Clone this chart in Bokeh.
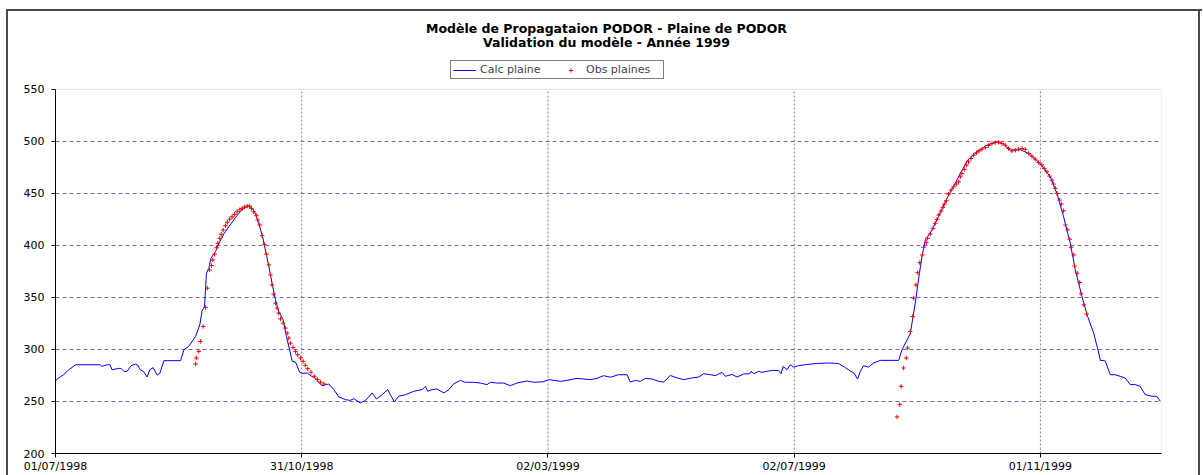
import pandas as pd
from bokeh.plotting import figure
from bokeh.models import (Range1d, FixedTicker, DatetimeTickFormatter, Label,
                          Legend, LegendItem, ColumnDataSource, BoxAnnotation)
from bokeh.embed import file_html
from bokeh.resources import INLINE

# ---------------- data ----------------
start_date = "1998-07-01"
end_offset = 548  # days shown on the x axis

title_line1 = "Modèle de Propagataion PODOR - Plaine de PODOR"
title_line2 = "Validation du modèle - Année 1999"

tick_labels = ["01/07/1998", "31/10/1998", "02/03/1999", "02/07/1999", "01/11/1999"]
y_ticks = [200, 250, 300, 350, 400, 450, 500, 550]

# "Calc plaine" : days since 01/07/1998, level
calc_day = [0, 1.6, 4, 6.6, 10, 22, 23, 25.6, 27, 28, 31.4, 32.5, 34, 35.5, 37.5, 39.6,
            40.7, 42, 43.7, 45.4, 46.7, 48.4, 50.4, 51.7, 53.7, 62, 63.6, 66, 69.4, 71.5,
            72.7, 73.8, 74.8, 76, 77, 79.3, 81, 83.4, 85.9, 88.3, 90.8, 93.3, 95.8, 97.4,
            99, 100.7, 102.4, 104, 105.7, 107.3, 109, 110.6, 112.8, 114.4, 116, 117.3,
            118.9, 121, 122.2, 124.7, 127, 128.8, 131, 132, 135.4, 137.9, 140.4, 143.7,
            146, 147.8, 151, 153.6, 156.9, 159, 161.8, 164.6, 165.9, 167.9, 170, 173.4,
            177.5, 181.7, 183.3, 184.4, 186.6, 189, 192.4, 194.9, 197.3, 200.6, 203,
            207.2, 210.5, 213.8, 215.5, 218.8, 222, 225.4, 228.6, 233.6, 236.9, 241.8,
            244.4, 246.9, 250.2, 253.5, 258.4, 261.7, 265, 268.3, 271.6, 274.9, 279,
            283.2, 284.8, 287.3, 289.8, 292.3, 295.6, 298.9, 301.4, 304.6, 308, 311.3,
            315.4, 318.7, 321.2, 324.5, 327, 330.2, 331.9, 335.2, 337.7, 341, 344, 344.6,
            346, 348.4, 350, 352.5, 355.8, 358.3, 359.5, 360.5, 362.5, 364, 365.7, 368.2,
            372, 377, 383, 388, 391, 394, 395.5, 397.4, 398.8, 400.4, 402.9, 405.4, 408.7,
            417.8, 419.4, 423.5, 426, 427.7, 429.3, 431, 434.3, 437.6, 441.7, 445.8,
            448.3, 451.9, 456.6, 461.5, 466.5, 469.8, 473.1, 478, 482.2, 487.9, 492.9,
            496.2, 499.5, 502.8, 505.3, 508.6, 511.4, 514.4, 516.5, 517.7, 520.1, 522.6,
            525, 527.6, 530, 532.5, 535, 537.4, 539.9, 543.2, 545.7, 547.4]
calc_val = [270, 272.6, 275.7, 280.5, 285.3, 285.3, 283.7, 285.3, 285.3, 280.5, 281.8, 281.8,
            278.6, 279, 284.4, 286, 285, 280.5, 278.6, 273.5, 280.5, 282.5, 275.4, 277,
            289.2, 289.2, 299.7, 302.9, 312.5, 323.7, 338, 340, 373.3, 378, 387.6, 394,
            402, 411, 418, 424.4, 430.8, 435.6, 437.8, 435.6, 430.8, 421, 410, 395.6,
            379.6, 363.7, 347.7, 336.5, 328.5, 312.5, 299.7, 288.5, 288, 278, 277, 277.4,
            274, 272.6, 267, 265.2, 266.8, 261.4, 254.3, 251.8, 251, 252.7, 248.6, 251,
            258.2, 252.4, 256.5, 261.4, 256.5, 249.6, 255, 256.5, 259.8, 261.4, 264.5,
            259.8, 261.4, 262, 258.2, 261.4, 267, 270.3, 268.4, 268.4, 267.7, 266.2, 268.4,
            267.7, 267.7, 265.2, 267.7, 269.7, 268.4, 269, 271, 270.3, 269.3, 270.3, 272.2,
            271.6, 271, 272.2, 274.8, 273.3, 275.7, 275.7, 268.7, 270.3, 269.3, 272.2,
            271.6, 269.3, 268.7, 275, 272.6, 271, 272.6, 273.5, 276.7, 275.7, 274.8, 278,
            274.2, 276, 273.5, 276.4, 276.7, 279, 276.7, 279, 278, 279, 279.9, 279.6,
            276.7, 283.7, 280.5, 285.3, 283, 284.4, 285.5, 286.5, 287, 286.5, 283, 279,
            277.6, 271.6, 279, 284.4, 283, 287, 289.5, 289.5, 299.7, 315, 344.5, 368.5,
            389.2, 405.2, 414.8, 428.2, 445.2, 459.6, 469.1, 481.9, 489.9, 496.3, 499.5,
            497.3, 491.5, 492, 488.3, 478.7, 465.9, 450, 427.5, 402, 376.4, 350.8, 331.7,
            315.7, 299.7, 289.5, 289, 275.7, 275.7, 274.1, 272.6, 266.2, 266.2, 264.5,
            256.6, 255, 255, 250.2]

# "Obs plaines" : days since 01/07/1998, level
obs_day = [69.4, 69.8, 71, 71.8, 73.2, 74.3, 75.2, 76.3, 77.3, 77.9, 78.8, 79.8, 80.4, 81.4,
           82.1, 83.1, 84.2, 85.1, 86.3, 87.5, 88.7, 90, 91.3, 92.5, 93.6, 95, 96.1, 97.1,
           98.2, 99.6, 100.2, 101.2, 102.4, 103.5, 104.5, 105.7, 106.5, 107.3, 108.1, 109,
           109.8, 110.6, 111.5, 112.8, 113.9, 114.8, 115.6, 116.4, 117.7, 118.9, 120,
           121.4, 122.7, 123.8, 125, 126.6, 128.2, 129.8, 131.3, 133,
           417, 418.3, 419, 420.2, 421.5, 422.2, 423.5, 424.7, 425.2, 426.3, 427.2, 428.2,
           429.5, 430.1, 431.5, 432.1, 433.4, 434.8, 435.9, 436.8, 437.6, 438.8, 439.7,
           440.4, 441.4, 442.5, 443.7, 445, 446.3, 447.5, 448.3, 449.1, 450.3, 451.3,
           452.4, 453.6, 454.9, 456.3, 457.6, 459.1, 460.7, 462.3, 464, 465.6, 467.3,
           468.9, 470.6, 472.2, 473.9, 475.6, 477.2, 478.9, 480.5, 482.2, 483.8, 485.4,
           487.1, 488.7, 489.9, 491.2, 492.5, 493.7, 494.5, 495.4, 496.2, 497.5, 498.4,
           499.5, 500.4, 501.5, 502.5, 503.2, 504.5, 504.9, 506.2, 507.5, 508.2, 509.5,
           510.9]
obs_val = [286, 291.8, 298.1, 307.7, 322.1, 340.3, 358.9, 376.4, 380.6, 386, 391.5, 397.8,
           402, 406.8, 410.6, 414.8, 418.9, 422.2, 425.3, 427.5, 429.8, 432.3, 434.2, 435.6,
           436.8, 437.8, 437.8, 435.6, 432.3, 428.5, 424.4, 419.6, 409.4, 401, 391.5,
           381.2, 371.6, 362, 353.1, 344.5, 339.7, 334.9, 329.4, 325.3, 320.5, 315.7,
           310.9, 306.1, 301.9, 298.1, 294.9, 291.8, 288.5, 284.7, 281.5, 278, 274.2, 271,
           268.4, 266.8,
           235.2, 247, 264.5, 282.2, 291.8, 301.4, 317.3, 331.7, 349.3, 362, 373.8, 383.4,
           390.8, 398.2, 402.6, 406.8, 410.9, 416.4, 421.2, 425, 429.2, 433, 436.5, 439.7,
           442.9, 449.3, 453.1, 456.3, 458.9, 461.1, 465.9, 469.1, 473, 477.1, 480.3,
           483.5, 486.7, 488.9, 490.8, 492.5, 494.1, 496, 497.9, 498.8, 499.2, 497.9,
           496.3, 493.1, 490.8, 491.5, 492.5, 493.1, 492.2, 488.3, 485.7, 482.9, 479.7,
           477.4, 473.9, 470.7, 466.6, 462.7, 458.9, 454.8, 450, 443.5, 439.7, 433.3,
           419.6, 414.8, 405.9, 398.2, 390.8, 380.3, 373.3, 364.3, 353.4, 342.9, 334.2]

# ---------------- build ----------------
t0 = pd.Timestamp(start_date)
t1 = t0 + pd.Timedelta(days=end_offset)
calc_src = ColumnDataSource(dict(x=t0 + pd.to_timedelta(calc_day, unit="D"), y=calc_val))
obs_src = ColumnDataSource(dict(x=t0 + pd.to_timedelta(obs_day, unit="D"), y=obs_val))
tick_dates = pd.to_datetime(tick_labels, format="%d/%m/%Y")
tick_ms = [d.value / 1e6 for d in tick_dates]
t0_ms, t1_ms = t0.value / 1e6, t1.value / 1e6

FONT = "DejaVu Sans"
Y_MIN, Y_MAX = y_ticks[0], y_ticks[-1]
# the frame reaches to the top of the page so that the titles and legend can sit in it
FRAME_H = 454
Y_TOP = Y_MIN + FRAME_H * (Y_MAX - Y_MIN) / 365.0

# outer chart-area border (left, top, right) drawn as CSS background lines
BORDER = "#4a4a4a"
chart_styles = {
    "background-color": "white",
    "background-image": ", ".join([f"linear-gradient({BORDER}, {BORDER})"] * 3),
    "background-size": "2px 470px, 1196px 2px, 2px 470px",
    "background-position": "6px 9px, 6px 9px, 1198px 9px",
    "background-repeat": "no-repeat",
}

p = figure(width=1203, height=475, output_backend="svg", toolbar_location=None,
           x_axis_type="datetime",
           x_range=Range1d(t0, t1), y_range=Range1d(Y_MIN, Y_TOP),
           min_border_left=55, min_border_right=42, min_border_top=0, min_border_bottom=21,
           background_fill_alpha=0, border_fill_alpha=0, styles=chart_styles)
p.outline_line_color = None

# plot-area border (top / right in grey; left / bottom covered by the axes)
p.add_layout(BoxAnnotation(left=t0_ms, right=t1_ms, bottom=Y_MIN, top=Y_MAX,
                           fill_color=None, fill_alpha=0, line_color="#a0a0a0",
                           line_width=1, level="underlay"))

# axes
p.xaxis.ticker = FixedTicker(ticks=tick_ms)
p.xaxis.formatter = DatetimeTickFormatter(
    milliseconds="%d/%m/%Y", seconds="%d/%m/%Y", minsec="%d/%m/%Y", minutes="%d/%m/%Y",
    hourmin="%d/%m/%Y", hours="%d/%m/%Y", days="%d/%m/%Y", months="%d/%m/%Y",
    years="%d/%m/%Y")
p.yaxis.ticker = FixedTicker(ticks=y_ticks)
p.yaxis.bounds = (Y_MIN, Y_MAX)
for ax in (p.xaxis[0], p.yaxis[0]):
    ax.axis_line_color = "black"
    ax.axis_line_width = 1
    ax.major_tick_line_color = "black"
    ax.major_tick_in = 0
    ax.major_tick_out = 4
    ax.minor_tick_line_color = None
    ax.major_label_text_font = FONT
    ax.major_label_text_font_size = "11px"
    ax.major_label_text_color = "black"
p.xaxis.major_label_standoff = 2
p.yaxis.major_label_standoff = 7

# grids
p.ygrid.ticker = FixedTicker(ticks=y_ticks[1:-1])
p.ygrid.grid_line_color = "#6c6cc8"
p.ygrid.grid_line_dash = "4 3"
p.ygrid.grid_line_width = 1
p.xgrid.visible = False
vgrid = ColumnDataSource(dict(x=tick_dates[1:], y0=[Y_MIN] * 4, y1=[Y_MAX] * 4))
p.segment(x0="x", y0="y0", x1="x", y1="y1", source=vgrid, line_color="#808080",
          line_dash="2 2", line_width=1)

# series
r_calc = p.line("x", "y", source=calc_src, line_color="#0000ff", line_width=1)
r_obs = p.scatter("x", "y", source=obs_src, marker="cross", size=4.5,
                  line_color="#ff0000", line_width=1)

# titles (screen units from the frame's bottom-left corner)
for txt, yy in ((title_line1, 425), (title_line2, 411)):
    p.add_layout(Label(x=551, y=yy, x_units="screen", y_units="screen", text=txt,
                       text_align="center", text_baseline="middle", text_font=FONT,
                       text_font_size="12.5px", text_font_style="bold", text_color="black"))

legend = Legend(items=[LegendItem(label="Calc plaine", renderers=[r_calc]),
                       LegendItem(label="Obs plaines", renderers=[r_obs])],
                orientation="horizontal", location=(395, 374),
                border_line_color="black", border_line_width=1,
                background_fill_color="white", background_fill_alpha=1,
                label_text_font=FONT, label_text_font_size="11px",
                glyph_width=23, glyph_height=10, label_standoff=4, label_width=75,
                spacing=4, padding=2, margin=0, label_height=10)
p.add_layout(legend, "center")

open("out.html", "w").write(file_html(p, INLINE))
